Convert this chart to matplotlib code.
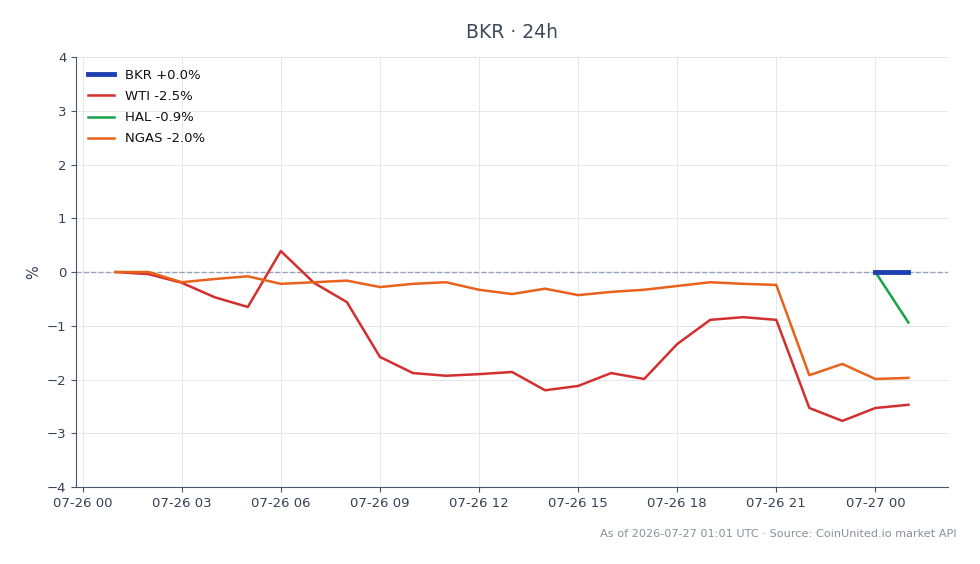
import numpy as np
import pandas as pd
import matplotlib
matplotlib.use('Agg')
import matplotlib.pyplot as plt
import matplotlib.dates as mdates

# hourly % change since start of window
times = pd.date_range('2026-07-26 01:00', '2026-07-27 01:00', freq='h')
wti = [0.0, -0.04, -0.20, -0.47, -0.65, 0.39, -0.20, -0.56, -1.58, -1.88, -1.93, -1.90, -1.86,
       -2.20, -2.12, -1.88, -1.99, -1.34, -0.89, -0.84, -0.89, -2.53, -2.77, -2.53, -2.47]
ngas = [0.0, 0.0, -0.19, -0.13, -0.08, -0.22, -0.19, -0.16, -0.28, -0.22, -0.19, -0.33, -0.41,
        -0.31, -0.43, -0.37, -0.33, -0.26, -0.19, -0.22, -0.24, -1.92, -1.71, -1.99, -1.97]
short_times = times[-2:]
bkr = [0.0, 0.0]
hal = [0.0, -0.94]

txt = '#334155'

fig = plt.figure(figsize=(9.8, 5.64), dpi=100)
ax = fig.add_axes([0.0776, 0.1365, 0.8898, 0.7624])

ax.axhline(0, color='#94a3b8', lw=1, ls='--', zorder=1)
ax.plot(short_times, bkr, color='#1e40af', lw=3.5, label='BKR +0.0%', zorder=5)
ax.plot(times, wti, color='#d32f2f', lw=1.8, label='WTI -2.5%', zorder=3)
ax.plot(short_times, hal, color='#16a34a', lw=1.8, label='HAL -0.9%', zorder=4)
ax.plot(times, ngas, color='#e8621c', lw=1.8, label='NGAS -2.0%', zorder=3)

ax.set_xlim(times[0] - pd.Timedelta(hours=1.2), times[-1] + pd.Timedelta(hours=1.2))
ax.set_ylim(-4, 4)
ax.xaxis.set_major_locator(mdates.HourLocator(byhour=range(0, 24, 3)))
ax.xaxis.set_major_formatter(mdates.DateFormatter('%m-%d %H'))

ax.grid(True, color='#e5e7eb', lw=0.7)
ax.set_axisbelow(True)
for s in ['top', 'right']:
    ax.spines[s].set_visible(False)
for s in ['left', 'bottom']:
    ax.spines[s].set_color('#475569')
ax.tick_params(colors='#475569', labelcolor=txt, labelsize=9.5)
ax.set_ylabel('%', color=txt, fontsize=10.5)

ax.set_title('BKR · 24h', color='#3f4a5a', fontsize=13.5, pad=14)
leg = ax.legend(loc='upper left', frameon=False, fontsize=9.5, labelspacing=0.62)
for t in leg.get_texts():
    t.set_color('#111111')

fig.text(0.976, 0.053, 'As of 2026-07-27 01:01 UTC · Source: CoinUnited.io market API',
         ha='right', va='center', color='#8a8f98', fontsize=8.1)

fig.savefig('out.png', dpi=100)
